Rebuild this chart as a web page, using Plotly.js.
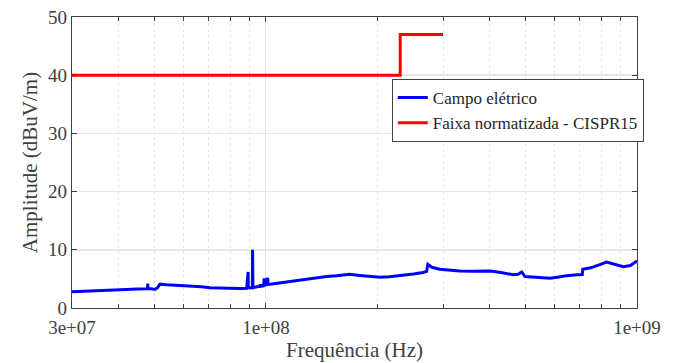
<!DOCTYPE html>
<html>
<head>
<meta charset="utf-8">
<script src="https://cdn.plot.ly/plotly-3.0.1.min.js"></script>
<style>html,body{margin:0;padding:0;background:#fff;}#chart{width:680px;height:363px;}</style>
</head>
<body>
<div id="chart"></div>
<script>
// Measured electric field (frequency in Hz, amplitude in dBuV/m)
const campoFreq = [
  3.0e7, 3.2e7, 3.42e7, 3.7e7, 4.0e7, 4.2e7, 4.5e7, 4.72e7, 4.79e7, 4.8e7, 4.81e7, 4.9e7, 5.02e7, 5.1e7, 5.18e7,
  5.4e7, 5.74e7, 6.0e7, 6.37e7, 6.7e7, 7.06e7, 7.6e7, 8.16e7, 8.5e7, 8.87e7, 8.95e7, 8.96e7, 8.98e7, 9.1e7, 9.19e7,
  9.2e7, 9.22e7, 9.4e7, 9.6e7, 9.64e7, 9.7e7, 9.85e7, 9.89e7, 9.92e7, 1.0e8, 1.01e8, 1.013e8, 1.026e8, 1.1e8,
  1.185e8, 1.25e8, 1.313e8, 1.38e8, 1.456e8, 1.55e8, 1.68e8, 1.79e8, 1.9e8, 2.03e8, 2.15e8, 2.34e8, 2.5e8, 2.65e8,
  2.71e8, 2.73e8, 2.8e8, 2.94e8, 3.1e8, 3.33e8, 3.6e8, 4.02e8, 4.3e8, 4.64e8, 4.78e8, 4.89e8, 4.99e8, 5.2e8,
  5.83e8, 6.1e8, 6.46e8, 6.9e8, 7.12e8, 7.14e8, 7.5e8, 7.9e8, 8.28e8, 8.6e8, 9.18e8, 9.6e8, 1.0e9
];
const campoAmp = [
  2.8, 2.9, 3.0, 3.1, 3.2, 3.2, 3.25, 3.3, 3.3, 4.2, 3.3, 3.3, 3.2, 3.5, 4.1,
  4.0, 3.9, 3.85, 3.8, 3.65, 3.5, 3.4, 3.3, 3.35, 3.4, 6.2, 3.4, 3.45, 3.5, 3.5,
  10.0, 3.5, 3.6, 3.7, 4.0, 3.75, 3.85, 5.1, 3.9, 4.0, 5.2, 4.05, 4.07, 4.35,
  4.6, 4.8, 5.0, 5.2, 5.4, 5.55, 5.8, 5.6, 5.45, 5.27, 5.35, 5.6, 5.85, 6.1,
  6.3, 7.5, 7.0, 6.65, 6.5, 6.35, 6.3, 6.35, 6.1, 5.7, 5.8, 6.2, 5.4, 5.3,
  5.1, 5.3, 5.56, 5.7, 5.75, 6.65, 6.9, 7.4, 7.9, 7.6, 7.1, 7.3, 8.1
];
// CISPR15 limit
const limiteFreq = [3.0e7, 2.3e8, 2.3e8, 3.0e8];
const limiteAmp = [40, 40, 47, 47];

const xMajorVals = [3e7, 1e8, 1e9];
const xMajorText = ['3e+07', '1e+08', '1e+09'];
const xMinorVals = [4e7, 5e7, 6e7, 7e7, 8e7, 9e7, 2e8, 3e8, 4e8, 5e8, 6e8, 7e8, 8e8, 9e8];

const traces = [
  {x: campoFreq, y: campoAmp, type: 'scatter', mode: 'lines', name: 'Campo elétrico',
   line: {color: '#0000ff', width: 3}},
  {x: limiteFreq, y: limiteAmp, type: 'scatter', mode: 'lines', name: 'Faixa normatizada - CISPR15',
   line: {color: '#ff0000', width: 3}}
];

const serif = 'Liberation Serif';
const axisFont = {family: serif, size: 19, color: '#404040'};
const layout = {
  width: 680, height: 363,
  margin: {l: 72, r: 43, t: 17, b: 55},
  paper_bgcolor: '#fff', plot_bgcolor: '#fff',
  font: axisFont,
  showlegend: true,
  legend: {x: 0.566, y: 0.787, xanchor: 'left', yanchor: 'top', bgcolor: '#fff',
    bordercolor: '#404040', borderwidth: 1, font: {family: serif, size: 17, color: '#262626'},
    tracegroupgap: 0, itemwidth: 30},
  xaxis: {
    type: 'log', range: [Math.log10(3e7), 9],
    tickmode: 'array', tickvals: xMajorVals, ticktext: xMajorText,
    ticks: 'inside', ticklen: 5, tickcolor: '#404040', ticklabelstandoff: 2,
    showgrid: true, gridcolor: '#e6e6e6', gridwidth: 1,
    minor: {tickmode: 'array', tickvals: xMinorVals, ticks: 'inside', ticklen: 4, tickcolor: '#404040',
      showgrid: true, gridcolor: '#e6e6e6', griddash: 'dot', gridwidth: 1},
    showline: true, linecolor: '#404040', linewidth: 1.3, mirror: 'ticks',
    zeroline: false, tickfont: axisFont,
    title: {text: 'Frequência (Hz)', font: {family: serif, size: 21, color: '#404040'}, standoff: 4}
  },
  yaxis: {
    range: [0, 50], tickmode: 'array', tickvals: [0, 10, 20, 30, 40, 50],
    ticks: 'inside', ticklen: 5, tickcolor: '#404040',
    showgrid: true, gridcolor: '#e6e6e6', gridwidth: 1.5,
    showline: true, linecolor: '#404040', linewidth: 1.3, mirror: 'ticks',
    zeroline: false, tickfont: axisFont,
    title: {text: 'Amplitude (dBuV/m)', font: {family: serif, size: 21, color: '#404040'}, standoff: 4}
  }
};
Plotly.newPlot('chart', traces, layout, {displayModeBar: false, staticPlot: true});
</script>
</body>
</html>
